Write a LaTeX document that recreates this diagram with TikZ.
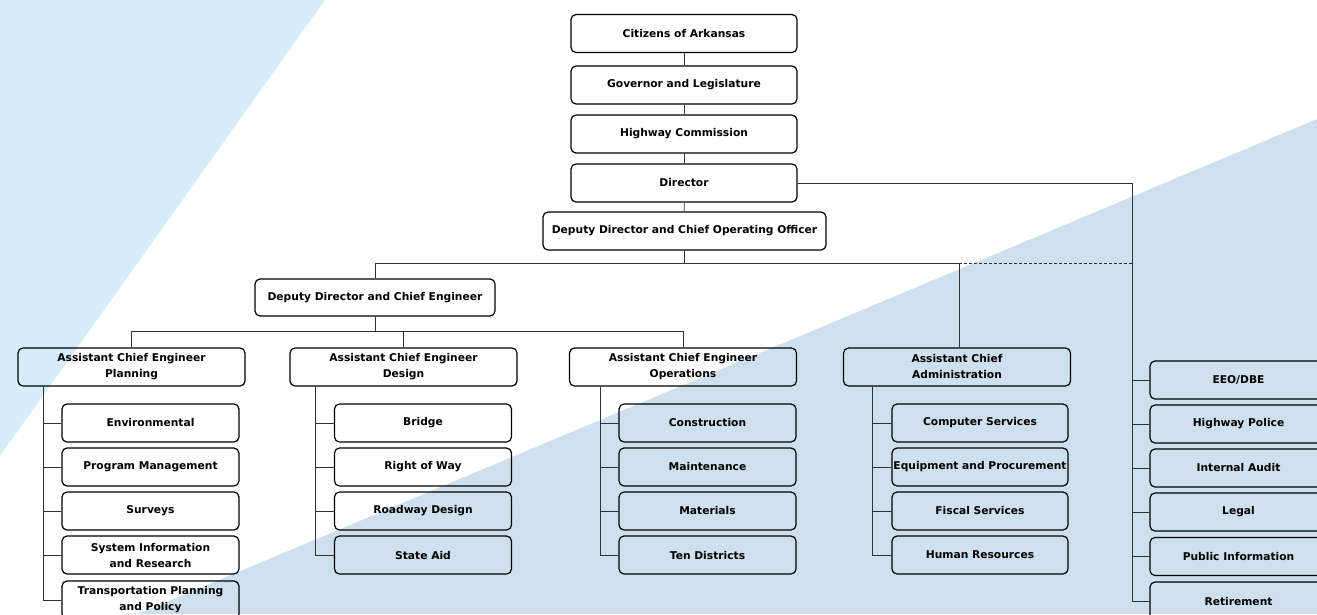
\documentclass[tikz,border=0pt]{standalone}
\usepackage{fontspec}
\setmainfont{DejaVu Sans}
\definecolor{lightbg}{RGB}{212,237,249}
\definecolor{steelbg}{RGB}{206,224,238}
\definecolor{linecol}{RGB}{50,50,50}
\begin{document}
\begin{tikzpicture}[x=1pt,y=-1pt,
  box/.style={draw=black, line width=1.2pt, rounded corners=5pt, inner sep=0pt,
    minimum height=38pt, align=center, text=black,
    font=\fontsize{10.7}{16}\selectfont\bfseries},
  wide/.style={box, minimum width=227pt},
  kid/.style={box, minimum width=177pt},
  conn/.style={draw=linecol, line width=0.9pt}]
\useasboundingbox (0,0) rectangle (1317,614);
% backgrounds
\fill[lightbg] (0,0) -- (325,0) -- (0,456) -- cycle;
\fill[steelbg] (1317,119) -- (1317,614) -- (138,614) -- cycle;

% top column
\node[wide, minimum width=226pt] (cit) at (684,33.5) {Citizens of Arkansas};
\node[wide, minimum width=226pt] (gov) at (684,85) {Governor and Legislature};
\node[wide, minimum width=226pt] (hwy) at (684,134) {Highway Commission};
\node[wide, minimum width=226pt] (dir) at (684,183) {Director};
\node[box, minimum width=283pt] (coo) at (684.5,231) {Deputy Director and Chief Operating Officer};
\node[box, minimum width=240pt, minimum height=37pt] (ddce) at (375,297.5) {Deputy Director and Chief Engineer};

% assistants
\node[wide] (plan) at (131.5,367) {Assistant Chief Engineer\\Planning};
\node[wide] (des) at (403.5,367) {Assistant Chief Engineer\\Design};
\node[wide] (ops) at (683,367) {Assistant Chief Engineer\\Operations};
\node[wide] (adm) at (957,367) {Assistant Chief\\Administration};

% planning children
\node[kid] (p1) at (150.5,423) {Environmental};
\node[kid] (p2) at (150.5,467) {Program Management};
\node[kid] (p3) at (150.5,511) {Surveys};
\node[kid] (p4) at (150.5,555) {System Information\\and Research};
\node[kid] (p5) at (150.5,600) {Transportation Planning\\and Policy};

% design children
\node[kid] (d1) at (423,423) {Bridge};
\node[kid] (d2) at (423,467) {Right of Way};
\node[kid] (d3) at (423,511) {Roadway Design};
\node[kid] (d4) at (423,555) {State Aid};

% operations children
\node[kid] (o1) at (707.5,423) {Construction};
\node[kid] (o2) at (707.5,467) {Maintenance};
\node[kid] (o3) at (707.5,511) {Materials};
\node[kid] (o4) at (707.5,555) {Ten Districts};

% administration children
\node[kid, minimum width=176pt] (a1) at (980,423) {Computer Services};
\node[kid, minimum width=176pt] (a2) at (980,467) {Equipment and Procurement};
\node[kid, minimum width=176pt] (a3) at (980,511) {Fiscal Services};
\node[kid, minimum width=176pt] (a4) at (980,555) {Human Resources};

% right column
\node[kid] (r1) at (1238.5,380) {EEO/DBE};
\node[kid] (r2) at (1238.5,424) {Highway Police};
\node[kid] (r3) at (1238.5,468) {Internal Audit};
\node[kid] (r4) at (1238.5,512) {Legal};
\node[kid] (r5) at (1238.5,556.5) {Public Information};
\node[kid] (r6) at (1238.5,601) {Retirement};

% trunk coordinates
\coordinate (tP) at (43,0);
\coordinate (tD) at (315.5,0);
\coordinate (tO) at (600,0);
\coordinate (tA) at (872,0);
\coordinate (tR) at (1132,0);
\coordinate (bus1) at (0,263);
\coordinate (bus2) at (0,331);
\coordinate (admx) at (959,0);

% connectors
\draw[conn] (cit) -- (gov);
\draw[conn] (gov) -- (hwy);
\draw[conn] (hwy) -- (dir);
\draw[conn] (dir) -- (coo);
\draw[conn] (coo.south) -- (coo.south |- bus1);
\draw[conn] (ddce.north) |- (admx |- bus1) -- (adm.north -| admx);
\draw[conn, dashed, dash pattern=on 3pt off 2pt] (admx |- bus1) -- (tR |- bus1);
\draw[conn] (dir.east) -| (r6.west -| tR) -- (r6.west);
\foreach \n in {r1,r2,r3,r4,r5} \draw[conn] (\n.west -| tR) -- (\n.west);

\draw[conn] (ddce.south) -- (ddce.south |- bus2);
\draw[conn] (plan.north) |- (ops.north |- bus2) -- (ops.north);
\draw[conn] (des.north) -- (des.north |- bus2);

\draw[conn] (plan.south -| tP) |- (p5.west);
\foreach \n in {p1,p2,p3,p4} \draw[conn] (\n.west -| tP) -- (\n.west);
\draw[conn] (des.south -| tD) |- (d4.west);
\foreach \n in {d1,d2,d3} \draw[conn] (\n.west -| tD) -- (\n.west);
\draw[conn] (ops.south -| tO) |- (o4.west);
\foreach \n in {o1,o2,o3} \draw[conn] (\n.west -| tO) -- (\n.west);
\draw[conn] (adm.south -| tA) |- (a4.west);
\foreach \n in {a1,a2,a3} \draw[conn] (\n.west -| tA) -- (\n.west);
\end{tikzpicture}
\end{document}
